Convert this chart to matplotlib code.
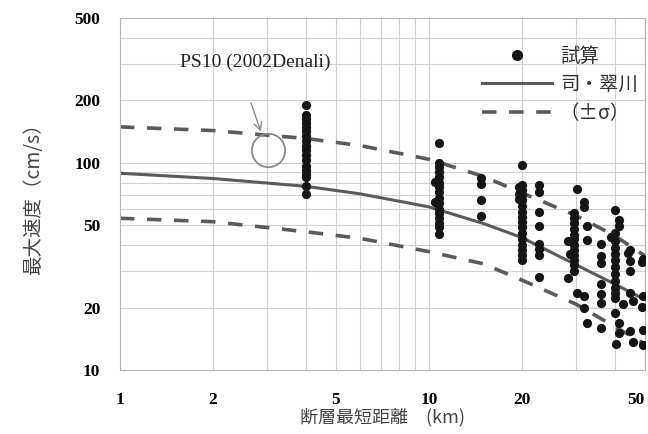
import numpy as np
import matplotlib.pyplot as plt
from matplotlib.lines import Line2D
from matplotlib.ticker import LogLocator, NullFormatter

# Si & Midorikawa attenuation curve and +/- sigma
curve_dist = [1, 2, 4, 6, 10, 15, 20, 30, 40, 50]
si_mean = [89, 84, 77, 70.8, 61.3, 51, 43.6, 32.2, 26, 21.9]
si_plus = [149, 143, 131, 121, 104, 86, 71.6, 55.6, 44.5, 35.6]
si_minus = [54, 52, 46.5, 43.2, 37.3, 32.6, 27.2, 20.8, 16.2, 13.4]

# trial calculations (distance km, peak velocity cm/s), one line per column of dots
sim_dist = (
    [4.0] * 18 + [10.8] * 16 + [10.5] * 2 + [14.7] * 4 + [20.1] * 16 + [19.6] * 3
    + [22.7] * 8 + [28.2] * 2 + [28.6] + [29.5] * 12 + [30.1] * 2 + [31.7] * 4
    + [32.4] * 3 + [36.2] * 7 + [39.0] + [40.0] * 13 + [41.2] * 4 + [40.5]
    + [42.4] + [44.2] + [44.7] * 5 + [45.8] * 2 + [48.8] * 2 + [49.4] * 4
)
sim_pgv = (
    [190, 170, 163, 156, 149, 142, 135, 128, 121, 115, 109, 103, 97, 92, 88, 85, 77, 71]
    + [124, 100, 95, 90, 85, 80, 76, 72, 68, 64, 60, 57, 54, 51, 49, 45.5]
    + [81, 65]
    + [84, 79, 66, 55.5]
    + [98, 78, 74, 70, 66, 62, 58, 55, 52, 49, 46, 43, 40, 38, 36, 34]
    + [76, 71, 67]
    + [78, 72.5, 58, 49.3, 40.6, 38.5, 36, 28.1]
    + [41.8, 27.9]
    + [36.4]
    + [57, 54, 51, 48, 45, 43, 40, 38, 36, 34, 32, 30]
    + [75, 23.6]
    + [64.8, 61.5, 22.7, 20]
    + [49.8, 42.2, 16.8]
    + [40.5, 35.6, 33, 25.9, 23.2, 21.2, 15.9]
    + [43.7]
    + [59, 46, 42, 39, 36.5, 34, 31.5, 29, 27, 25, 23.5, 22.3, 18.8]
    + [52.7, 49.8, 16.8, 15.1]
    + [13.4]
    + [20.8]
    + [36.9]
    + [38, 33.7, 30, 23.6, 15.4]
    + [21.5, 13.7]
    + [33.1, 20.2]
    + [34.3, 22.7, 15.7, 13.3]
)

x_ticks = [1, 2, 5, 10, 20, 50]
y_ticks = [10, 20, 50, 100, 200, 500]

cjk = ['Noto Sans CJK JP', 'DejaVu Sans']
serif = 'Liberation Serif'
line_col = '#5a5a5a'

fig = plt.figure(figsize=(6.48, 4.34), dpi=100)
ax = fig.add_axes([0.185, 0.147, 0.81, 0.812])
ax.set_xscale('log')
ax.set_yscale('log')
ax.set_xlim(1, 50)
ax.set_ylim(10, 500)

ax.set_xticks(x_ticks)
ax.set_xticklabels([str(t) for t in x_ticks])
ax.set_yticks(y_ticks)
ax.set_yticklabels([str(t) for t in y_ticks])
ax.xaxis.set_minor_locator(LogLocator(base=10, subs=np.arange(2, 10)))
ax.yaxis.set_minor_locator(LogLocator(base=10, subs=np.arange(2, 10)))
ax.xaxis.set_minor_formatter(NullFormatter())
ax.yaxis.set_minor_formatter(NullFormatter())
ax.tick_params(which='both', length=0)
ax.tick_params(axis='x', pad=16)
ax.tick_params(axis='y', pad=14)
for lab in ax.get_xticklabels() + ax.get_yticklabels():
    lab.set_fontfamily(serif)
    lab.set_fontweight('bold')
    lab.set_fontsize(12.5)
ax.get_xticklabels()[-1].set_horizontalalignment('right')

ax.grid(True, which='both', color='#d0d0d0', lw=0.8)
for s in ax.spines.values():
    s.set_color('#b5b5b5')
    s.set_linewidth(0.8)

ax.plot(curve_dist, si_plus, color=line_col, lw=2.6, dashes=(4, 3.5))
ax.plot(curve_dist, si_minus, color=line_col, lw=2.6, dashes=(4, 3.5))
ax.plot(curve_dist, si_mean, color=line_col, lw=2.2)
ax.scatter(sim_dist, sim_pgv, s=44, color='#151515', zorder=3, linewidths=0)

# PS10 note with arrow and circle
ax.text(2.75, 305, 'PS10 (2002Denali)', family=serif, fontsize=14,
        ha='center', va='center', color='#222222')
ax.annotate('', xy=(2.88, 137), xytext=(2.64, 200),
            arrowprops=dict(arrowstyle='->', color='#8a8a8a', lw=1.0,
                            mutation_scale=14))
ax.plot([3.01], [115], marker='o', ms=24, mfc='none', mec='#8a8a8a', mew=1.3)

ax.set_ylabel('最大速度（cm/s）', family=cjk, fontsize=14, color='#444444', labelpad=22)
ax.set_xlabel('断層最短距離　(km)', family=cjk, fontsize=13, color='#444444', labelpad=0)

handles = [
    Line2D([], [], ls='none', marker='o', ms=7, color='#151515'),
    Line2D([], [], color=line_col, lw=2.2),
    Line2D([], [], color=line_col, lw=2.6, dashes=(4, 3.5)),
]
leg = ax.legend(handles, ['試算', '司・翠川', '（±σ）'], loc='upper right',
                bbox_to_anchor=(1.02, 0.97), frameon=False, handlelength=3.6,
                prop={'family': cjk, 'size': 14}, labelspacing=0.38,
                handletextpad=0.4)
for t in leg.get_texts():
    t.set_color('#333333')

fig.savefig('out.png', dpi=100)
